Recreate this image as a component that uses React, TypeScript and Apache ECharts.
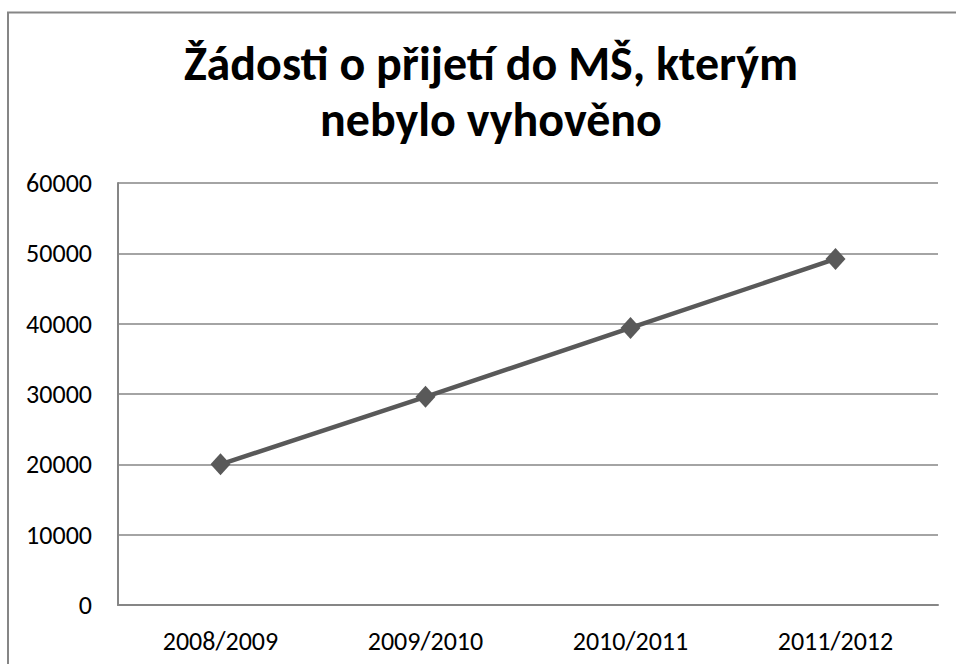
import React, { useEffect, useRef } from "react";
import * as echarts from "echarts";

const titleLines = ["Žádosti o přijetí do MŠ, kterým", "nebylo vyhověno"];
const categories = ["2008/2009", "2009/2010", "2010/2011", "2011/2012"];
const values = [20000, 29600, 39400, 49200];
const yMin = 0;
const yMax = 60000;
const yInterval = 10000;

const FONT = "Carlito, 'Open Sans', 'Noto Sans', sans-serif";

export default function App() {
  const ref = useRef<HTMLDivElement>(null);
  useEffect(() => {
    if (!ref.current) return;
    const chart = echarts.init(ref.current, undefined, { renderer: "svg" });
    chart.setOption({
      animation: false,
      backgroundColor: "#ffffff",
      graphic: [
        {
          type: "rect",
          shape: { x: 8, y: 12.5, width: 1200, height: 1200 },
          style: { fill: "none", stroke: "#868686", lineWidth: 2 },
          silent: true,
          z: 0,
        },
        {
          type: "text",
          x: 491,
          y: 35,
          style: {
            text: titleLines.join("\n"),
            font: `bold 48px ${FONT}`,
            textAlign: "center",
            textVerticalAlign: "top",
            lineHeight: 56,
            fill: "#000000",
          },
        },
      ],
      grid: { left: 118, right: 18, top: 183, bottom: 59, containLabel: false },
      xAxis: {
        type: "category",
        data: categories,
        boundaryGap: true,
        axisLine: { show: true, lineStyle: { color: "#868686", width: 2 } },
        axisTick: { show: false },
        axisLabel: { color: "#000", fontSize: 26, fontFamily: FONT, margin: 23 },
        splitLine: { show: false },
      },
      yAxis: {
        type: "value",
        min: yMin,
        max: yMax,
        interval: yInterval,
        axisLine: { show: true, lineStyle: { color: "#868686", width: 2 } },
        axisTick: { show: false },
        axisLabel: {
          color: "#000",
          fontSize: 26,
          fontFamily: FONT,
          margin: 26,
          formatter: (v: number) => String(v),
        },
        splitLine: { show: true, lineStyle: { color: "#868686", width: 1.5 } },
      },
      series: [
        {
          type: "line",
          data: values,
          symbol: "diamond",
          symbolSize: [20, 22],
          lineStyle: { color: "#595959", width: 4.5 },
          itemStyle: { color: "#595959" },
          z: 5,
        },
      ],
    });
    return () => chart.dispose();
  }, []);
  return (
    <div
      ref={ref}
      style={{ position: "fixed", left: 0, top: 0, width: 956, height: 664 }}
    />
  );
}
